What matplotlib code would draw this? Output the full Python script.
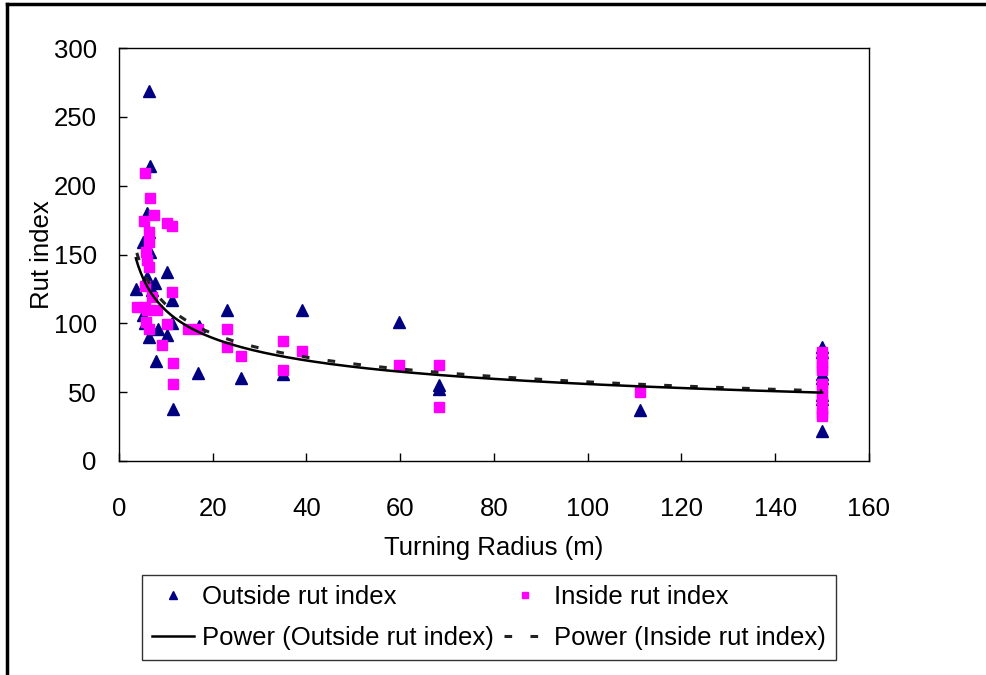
import numpy as np
import matplotlib
matplotlib.use('Agg')
import matplotlib.pyplot as plt
from matplotlib.lines import Line2D

plt.rcParams['font.family'] = ['Liberation Sans', 'DejaVu Sans']

# --- DANE ---
# Outside rut index
x_out = [6.3, 6.6, 5.9, 6.5, 5.2, 6.6, 6.0, 10.2, 3.6, 7.7, 7.1, 11.4, 5.2, 5.6,
         8.4, 6.4, 10.2, 11.3, 7.9, 16.9, 11.6, 17.1, 23.0, 39.0, 26.0, 34.9,
         59.8, 68.3, 68.3, 111.1, 150, 150, 150, 150, 150, 150, 150]
y_out = [269, 214, 180, 166, 159, 152, 134, 137, 125, 129, 124, 117, 106, 100,
         96, 90, 91.5, 100, 72.6, 64, 38, 98, 110, 110, 60, 63,
         101, 55, 52, 37, 83, 79, 63, 60, 48, 45, 22]

# Inside rut index
x_in = [5.5, 6.6, 7.5, 5.3, 10.2, 11.4, 6.5, 6.3, 5.8, 5.9, 6.3, 5.5, 11.4, 7.0,
        3.8, 5.5, 5.9, 8.2, 5.8, 10.2, 6.5, 9.1, 11.6, 11.6, 14.7, 16.9, 23.0,
        23.0, 26.0, 34.9, 34.9, 39.0, 59.8, 68.3, 68.3, 111.1,
        150, 150, 150, 150, 150, 150, 150, 150, 150, 150, 150, 150]
y_in = [209, 191, 179, 174, 173, 171, 166, 159, 152, 146, 141, 127, 122.5, 119,
        112, 112, 110, 110, 101, 99.5, 96, 84, 71, 56, 96, 96, 96,
        83, 76, 87, 66, 80, 70, 70, 39, 50,
        79, 75, 71, 68, 66, 56, 52, 48, 44, 38, 35, 33]

x_ticks = [0, 20, 40, 60, 80, 100, 120, 140, 160]
y_ticks = [0, 50, 100, 150, 200, 250, 300]


# --- LINIA TRENDU (potegowa, jak w Excelu) ---
def power_fit(x, y):
    x = np.asarray(x, float)
    y = np.asarray(y, float)
    b, ln_a = np.polyfit(np.log(x), np.log(y), 1)
    xs = np.linspace(x.min(), x.max(), 300)
    return xs, np.exp(ln_a) * xs**b


xf_out, yf_out = power_fit(x_out, y_out)
xf_in, yf_in = power_fit(x_in, y_in)

# --- WYKRES ---
fs = 18.5
fig = plt.figure(figsize=(9.87, 6.75), dpi=100)
ax = fig.add_axes([119/987, 1 - 461/675, 750/987, 413/675])

h_out, = ax.plot(x_out, y_out, linestyle='none', marker='^', markersize=8.5,
                 color='#000080', label='Outside rut index')
h_in, = ax.plot(x_in, y_in, linestyle='none', marker='s', markersize=7,
                color='#FF00FF', label='Inside rut index')
h_fin, = ax.plot(xf_in, yf_in, color='#222222', lw=2.2, dashes=(2.5, 6),
                 label='Power (Inside rut index)')
h_fout, = ax.plot(xf_out, yf_out, color='black', lw=1.8,
                  label='Power (Outside rut index)')

ax.set_xlim(0, 160)
ax.set_ylim(0, 300)
ax.set_xticks(x_ticks)
ax.set_yticks(y_ticks)
ax.tick_params(direction='in', length=6, width=1, labelsize=fs)
ax.tick_params(axis='x', pad=26)
ax.tick_params(axis='y', pad=16)
for s in ax.spines.values():
    s.set_linewidth(1)
ax.set_xlabel('Turning Radius (m)', fontsize=fs, labelpad=11)
ax.set_ylabel('Rut index', fontsize=fs, labelpad=0)

leg = fig.legend(handles=[h_out, h_fout, h_in, h_fin], ncol=2,
                 bbox_to_anchor=(142/987, 1 - 575/675),
                 loc='upper left', fontsize=fs, frameon=True,
                 fancybox=False, edgecolor='black', handlelength=1.63,
                 handletextpad=0.31, columnspacing=0.4, borderaxespad=0,
                 markerscale=0.7, labelspacing=0.65, borderpad=0.4)
leg.get_frame().set_linewidth(1)

# ramka zewnetrzna (gora i lewa strona)
fig.add_artist(Line2D([7/987, 1], [1 - 4/675, 1 - 4/675], transform=fig.transFigure,
                      color='black', lw=2.5))
fig.add_artist(Line2D([7/987, 7/987], [0, 1 - 4/675], transform=fig.transFigure,
                      color='black', lw=2.5))

fig.savefig('out.png', dpi=100)
